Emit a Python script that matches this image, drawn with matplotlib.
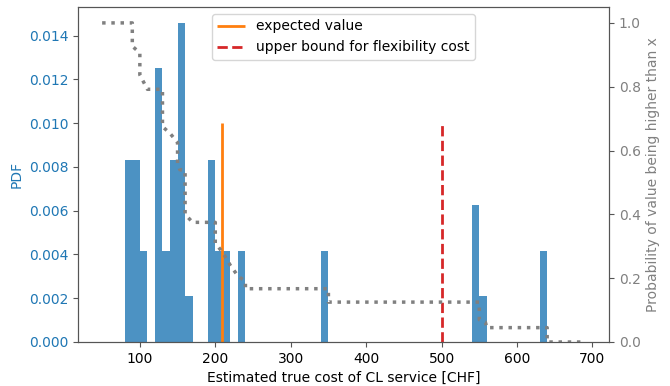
import numpy as np
import matplotlib
matplotlib.use("Agg")
import matplotlib.pyplot as plt

# histogram of the cost estimates: left edge of each 10 CHF bin and sample count
bin_left = [80, 90, 100, 120, 130, 140, 150, 160, 190, 200, 210, 230, 340, 540, 550, 630]
counts = [4, 4, 2, 6, 2, 4, 7, 1, 4, 2, 2, 2, 2, 3, 1, 2]
bin_width = 10

# survival curve
surv_x = [50, 90, 90, 100, 100, 110, 130, 130, 140, 150, 150, 153, 160, 160, 170,
          200, 200, 210, 220, 230, 240, 240, 350, 350, 550, 550, 558, 560, 640, 640, 690]
surv_y = [1.0, 1.0, 0.927, 0.906, 0.837, 0.792, 0.792, 0.675, 0.654, 0.625, 0.56, 0.54, 0.537, 0.40, 0.375,
          0.375, 0.31, 0.28, 0.24, 0.207, 0.19, 0.167, 0.167, 0.125, 0.125, 0.07, 0.0625, 0.045, 0.045, 0.0, 0.0]

expected_value = 208.75
upper_bound = 500
vline_top = 0.010

fig, ax1 = plt.subplots(figsize=(6.7, 3.86), dpi=100)
fig.subplots_adjust(left=0.1164, right=0.909, top=0.982, bottom=0.114)

edges = np.arange(80, 650, bin_width)
centres = np.array(bin_left) + bin_width / 2
ax1.hist(centres, bins=edges, weights=counts, density=True,
         color='#1f77b4', alpha=0.8)
ax1.vlines(expected_value, 0, vline_top, color='#ff7f0e', lw=2, label='expected value')
ax1.vlines(upper_bound, 0, vline_top, color='#d62728', lw=2, linestyles='--',
           label='upper bound for flexibility cost')
ax1.set_xlabel('Estimated true cost of CL service [CHF]')
ax1.set_ylabel('PDF', color='#1f77b4')
ax1.tick_params(axis='y', labelcolor='#1f77b4')

ax2 = ax1.twinx()
ax2.plot(surv_x, surv_y, ':', color='gray', lw=2.5)
ax2.set_ylim(bottom=0)
ax2.set_ylabel('Probability of value being higher than x', color='gray')
ax2.tick_params(axis='y', labelcolor='gray')

for ax in (ax1, ax2):
    for s in ax.spines.values():
        s.set_color('#555555')
    ax.tick_params(color='#555555')

h, l = ax1.get_legend_handles_labels()
ax2.legend(h, l, loc='upper center')

plt.savefig('out.png')
